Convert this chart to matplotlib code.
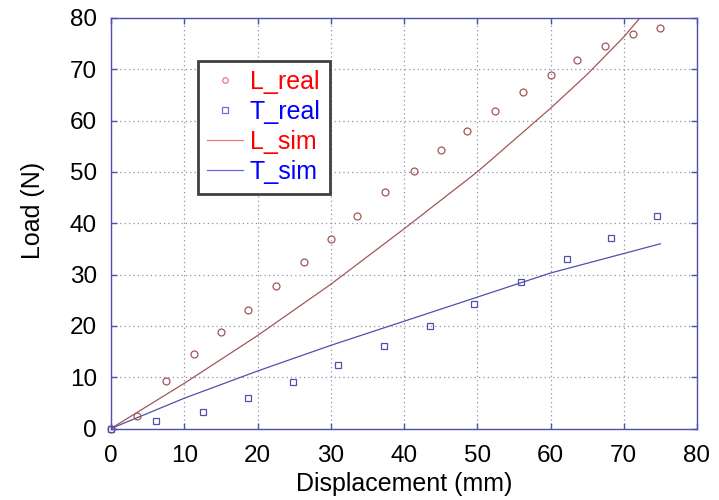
import matplotlib
matplotlib.use("Agg")
import matplotlib.pyplot as plt

# Data
L_real_x = [0, 3.6, 7.5, 11.3, 15.0, 18.7, 22.5, 26.3, 30.0, 33.6, 37.4, 41.3, 45.0,
            48.6, 52.4, 56.3, 60.0, 63.6, 67.5, 71.3, 75.0]
L_real_y = [0, 2.5, 9.3, 14.6, 18.9, 23.0, 27.7, 32.5, 37.0, 41.5, 46.1, 50.2, 54.2,
            58.0, 61.8, 65.5, 68.8, 71.8, 74.5, 76.8, 78.0]

T_real_x = [0, 6.2, 12.5, 18.7, 24.9, 31.0, 37.3, 43.5, 49.6, 56.0, 62.2, 68.3, 74.6]
T_real_y = [0, 1.4, 3.3, 6.0, 9.1, 12.3, 16.0, 19.9, 24.2, 28.6, 33.1, 37.1, 41.4]

L_sim_x = [0, 10, 20, 30, 40, 50, 60, 65, 70, 72.2, 75]
L_sim_y = [0, 8.8, 18.1, 28.1, 38.9, 50.0, 62.4, 69.0, 76.3, 80.0, 84.5]

T_sim_x = [0, 10, 20, 30, 40, 50, 60, 70, 75]
T_sim_y = [0, 5.9, 11.2, 16.2, 20.9, 25.6, 30.3, 34.1, 36.0]

x_ticks = [0, 10, 20, 30, 40, 50, 60, 70, 80]
y_ticks = [0, 10, 20, 30, 40, 50, 60, 70, 80]

plt.rcParams['font.family'] = ['Liberation Sans', 'DejaVu Sans']

fig = plt.figure(figsize=(7.19, 5.0), dpi=100)
ax = fig.add_axes([111 / 719, 1 - 428.5 / 500, (697 - 111) / 719, (428.5 - 18) / 500])

red_c = '#a05858'
blue_c = '#5050a8'

ax.plot(L_real_x, L_real_y, linestyle='none', marker='o', markersize=5,
        markerfacecolor='none', markeredgecolor=red_c, markeredgewidth=0.9, label='L_real',
        clip_on=False, zorder=3)
ax.plot(T_real_x, T_real_y, linestyle='none', marker='s', markersize=5,
        markerfacecolor='none', markeredgecolor=blue_c, markeredgewidth=0.9, label='T_real',
        clip_on=False, zorder=3)
ax.plot(L_sim_x, L_sim_y, color=red_c, linewidth=0.9, label='L_sim')
ax.plot(T_sim_x, T_sim_y, color=blue_c, linewidth=0.9, label='T_sim')

ax.set_xlim(0, 80)
ax.set_ylim(0, 80)
ax.set_xticks(x_ticks)
ax.set_yticks(y_ticks)
ax.tick_params(direction='in', length=4, width=1.0, color='#5050b0', labelsize=17.5,
               top=True, right=True)
ax.tick_params(axis='x', pad=12)
ax.tick_params(axis='y', pad=10)
ax.grid(True, linestyle=(0, (1, 2.5)), color='#9090b0', linewidth=0.9)
for s in ax.spines.values():
    s.set_color('#5050b0')
    s.set_linewidth(1.0)

ax.set_xlabel('Displacement (mm)', fontsize=18)
ax.set_ylabel('Load (N)', fontsize=18)
ax.xaxis.set_label_coords(0.5, -(484 - 428.5) / 410.5, transform=ax.transAxes)
ax.xaxis.label.set_va('center')
ax.yaxis.set_label_coords(-(111 - 33) / 586, 0.53, transform=ax.transAxes)
ax.yaxis.label.set_va('center')

leg = ax.legend(loc='upper left', bbox_to_anchor=((197.5 - 111) / 586, (428.5 - 60.5) / 410.5),
                fontsize=18, frameon=True, fancybox=False, edgecolor='#404040', framealpha=1,
                handlelength=1.45, handletextpad=0.25, borderpad=0.38, labelspacing=0.24,
                borderaxespad=0, markerscale=0.8)
leg.get_frame().set_linewidth(2.0)
text_colors = ['#ff0000', '#0000ff', '#ff0000', '#0000ff']
for t, c in zip(leg.get_texts(), text_colors):
    t.set_color(c)
handles = leg.legend_handles
handles[0].set_markeredgecolor('#f07878')
handles[1].set_markeredgecolor('#6868f0')
handles[2].set_color('#f07878')
handles[3].set_color('#6868f0')

fig.savefig('out.png', dpi=100)
